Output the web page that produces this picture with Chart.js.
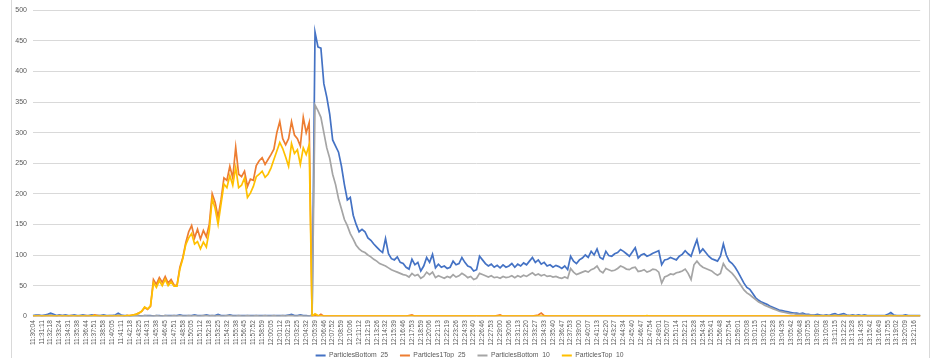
<!DOCTYPE html>
<html>
<head>
<meta charset="utf-8">
<script src="https://cdn.jsdelivr.net/npm/chart.js@4/dist/chart.umd.min.js"></script>
<style>
  html, body { margin: 0; padding: 0; background: #ffffff; overflow: hidden; width: 932px; height: 358px; }
  #wrap { position: relative; width: 932px; height: 378px; }
  #frame { position: absolute; left: 11px; top: -3px; width: 919px; height: 390px; box-sizing: border-box; border: 1px solid #d9d9d9; pointer-events: none; }
  canvas { position: absolute; left: 0; top: 0; }
</style>
</head>
<body>
<div id="wrap">
  <div id="frame"></div>
  <canvas id="chart"></canvas>
</div>
<script>
// Tick labels shown on the category axis (one every 3 samples)
const tickLabels = [
  "11:30:04","11:31:11","11:32:18","11:33:24","11:34:31","11:35:38","11:36:44","11:37:51","11:38:58","11:40:05",
  "11:41:11","11:42:18","11:43:25","11:44:31","11:45:38","11:46:45","11:47:51","11:48:58","11:50:05","11:51:12",
  "11:52:18","11:53:25","11:54:32","11:55:38","11:56:45","11:57:52","11:58:59","12:00:05","12:01:12","12:02:19",
  "12:03:25","12:04:32","12:05:39","12:06:46","12:07:52","12:08:59","12:10:06","12:11:12","12:12:19","12:13:26",
  "12:14:32","12:15:39","12:16:46","12:17:53","12:18:59","12:20:06","12:21:13","12:22:19","12:23:26","12:24:33",
  "12:25:40","12:26:46","12:27:53","12:29:00","12:30:06","12:31:13","12:32:20","12:33:27","12:34:33","12:35:40",
  "12:36:47","12:37:53","12:39:00","12:40:07","12:41:13","12:42:20","12:43:27","12:44:34","12:45:40","12:46:47",
  "12:47:54","12:49:01","12:50:07","12:51:14","12:52:21","12:53:28","12:54:34","12:55:41","12:56:48","12:57:54",
  "12:59:01","13:00:08","13:01:15","13:02:21","13:03:28","13:04:35","13:05:42","13:06:48","13:07:55","13:09:02",
  "13:10:08","13:11:15","13:12:22","13:13:28","13:14:35","13:15:42","13:16:49","13:17:55","13:19:02","13:20:09",
  "13:21:16"
];

const seriesNames = ["ParticlesBottom_25", "Particles1Top_25", "ParticlesBottom_10", "ParticlesTop_10"];

const particlesBottom25 = [
  1,2,2,1,2,3,5,3,1,2,
  1,2,1,1,2,1,1,2,1,1,
  2,1,1,1,2,1,1,1,2,5,
  2,1,1,0,1,1,1,0,1,1,
  1,0,1,1,0,1,1,1,1,1,
  2,1,1,1,1,2,1,1,1,2,
  1,1,1,3,1,1,1,2,1,1,
  1,1,1,1,1,1,1,1,1,1,
  1,1,1,1,1,1,1,2,3,1,
  1,2,1,1,0,2,464,440,438,380,
  358,330,288,278,268,245,215,190,194,165,
  150,138,142,138,128,124,118,113,108,104,
  127,102,94,92,97,88,86,80,77,93,
  84,88,74,82,96,88,101,79,85,80,
  82,78,80,90,84,86,96,88,82,80,
  74,76,98,92,86,82,85,80,83,79,
  84,80,82,86,80,85,82,87,84,90,
  96,88,92,85,88,82,84,80,83,81,
  78,82,76,98,90,86,92,95,100,96,
  106,100,110,96,93,106,99,98,102,104,
  109,106,102,98,105,112,95,100,102,98,
  100,103,105,107,84,92,93,96,94,92,
  98,101,107,102,98,112,125,104,110,104,
  98,94,92,90,98,118,100,90,86,80,
  72,63,54,47,44,37,30,26,23,21,
  19,16,14,12,10,9,8,7,6,5,
  5,4,5,3,3,2,2,3,2,1,
  2,1,3,4,2,3,4,2,1,2,
  1,2,1,2,1,1,1,1,1,1,
  1,3,6,2,1,1,1,2,1,1,
  1,1,1
];

const particles1Top25 = [
  0,0,1,0,0,1,0,0,0,1,
  0,0,0,1,0,0,0,0,1,0,
  0,2,1,0,0,0,0,0,0,0,
  0,0,1,1,2,3,5,8,14,11,
  16,60,52,63,55,65,54,60,51,50,
  80,96,120,138,148,128,142,126,140,130,
  150,200,186,162,190,226,222,245,226,276,
  232,228,237,212,224,222,246,254,259,248,
  256,264,273,300,318,290,280,290,318,296,
  290,278,325,300,316,0,1,0,3,0,
  0,0,0,0,0,0,0,0,0,0,
  0,0,0,0,0,0,0,0,0,0,
  0,0,0,0,0,0,0,0,1,2,
  0,0,0,0,0,0,0,0,0,0,
  0,0,0,0,0,0,0,0,0,0,
  0,0,0,0,0,0,0,0,1,2,
  0,0,0,0,0,0,0,0,0,0,
  0,1,2,5,1,0,0,0,0,0,
  0,0,0,0,0,0,0,0,0,0,
  0,0,0,0,0,0,0,0,0,0,
  0,0,0,0,0,0,0,0,0,0,
  0,0,0,0,0,0,0,0,0,0,
  0,0,0,0,0,0,0,0,0,0,
  0,0,0,0,0,0,0,0,0,0,
  0,0,0,0,0,0,0,0,0,0,
  0,0,0,0,0,0,0,0,0,0,
  0,0,0,0,0,0,0,0,0,0,
  0,0,0,0,0,0,0,0,0,0,
  0,0,0,0,0,0,0,0,0,0,
  0,0,0,0,0,0,0,0,0,0,
  0,0,0
];

const particlesBottom10 = [
  0,1,1,0,1,1,2,1,0,1,
  1,1,0,1,1,0,1,1,0,1,
  1,0,1,1,1,0,1,1,1,2,
  1,0,1,0,0,1,0,0,1,0,
  0,0,1,0,0,1,0,0,1,0,
  1,0,0,1,0,1,0,0,1,1,
  0,1,0,1,0,0,1,1,0,0,
  1,0,0,1,0,0,1,0,0,1,
  0,0,1,0,0,1,0,1,1,0,
  0,1,0,0,0,1,345,336,325,300,
  275,258,232,215,192,175,158,148,135,126,
  116,110,106,104,100,97,93,90,86,84,
  82,79,76,74,72,70,68,67,64,70,
  66,68,62,65,72,68,72,63,66,64,
  62,65,63,68,64,66,70,67,63,65,
  60,62,70,68,66,64,66,63,64,62,
  65,63,64,66,63,66,64,67,65,68,
  71,67,69,66,68,65,66,64,65,63,
  62,64,62,78,72,68,70,72,74,72,
  76,78,82,74,71,78,76,74,75,78,
  82,80,77,76,79,80,73,74,76,72,
  74,77,76,72,54,64,66,69,68,71,
  72,74,77,70,60,84,90,84,80,78,
  76,74,70,67,70,86,78,74,70,64,
  57,50,43,38,35,31,27,23,21,18,
  16,14,12,10,8,7,6,5,4,4,
  3,3,3,2,2,2,1,1,1,1,
  1,1,1,2,1,1,2,1,1,1,
  0,1,0,1,0,0,0,0,0,0,
  0,1,2,1,0,0,0,0,0,0,
  0,0,0
];

const particlesTop10 = [
  0,0,0,0,0,0,0,0,0,0,
  0,0,0,0,0,0,0,0,0,0,
  0,1,0,0,0,0,0,0,0,0,
  0,0,1,1,2,3,5,8,15,12,
  17,55,47,58,50,60,50,56,49,49,
  77,94,117,128,135,118,122,110,121,113,
  140,192,176,150,183,216,210,230,214,243,
  210,214,226,194,201,212,228,232,237,227,
  232,242,256,270,284,274,260,245,282,266,
  272,248,275,264,280,0,4,1,0,0,
  0,0,0,0,0,0,0,0,0,0,
  0,0,0,0,0,0,0,0,0,0,
  0,0,0,0,0,0,0,0,0,0,
  0,0,0,0,0,0,0,0,0,0,
  0,0,0,0,0,0,0,0,0,0,
  0,0,0,0,0,0,0,0,0,0,
  0,0,0,0,0,0,0,0,0,0,
  0,0,0,0,0,0,0,0,0,0,
  0,0,0,0,0,0,0,0,0,0,
  0,0,0,0,0,0,0,0,0,0,
  0,0,0,0,0,0,0,0,0,1,
  0,0,0,0,0,0,0,0,0,0,
  0,0,0,0,0,0,0,0,0,0,
  0,0,0,0,0,0,0,0,0,0,
  0,0,0,0,0,0,0,0,0,0,
  0,0,0,0,0,0,0,0,0,0,
  0,0,0,0,0,0,0,0,0,0,
  0,0,0,0,0,0,0,0,0,0,
  0,0,0,0,0,0,0,0,0,0,
  0,0,0,0,0,0,0,0,0,0,
  0,0,0
];

const yTicks = { min: 0, max: 500, step: 50 };

// Category labels: every third sample carries a time tick label
const labels = particlesBottom25.map((_, j) =>
  (j % 3 === 0 && j / 3 < tickLabels.length) ? tickLabels[j / 3] : '');

const FONT = "'Liberation Sans', Arial, sans-serif";
const TXT = '#595959';

// Nudge the legend box so it sits where the reference legend sits
const legendShift = {
  id: 'legendShift',
  afterLayout(chart) {
    const l = chart.legend;
    if (l) { l.left -= 7; l.right -= 7; l.top -= 9; l.bottom -= 9; }
  }
};

new Chart(document.getElementById('chart'), {
  type: 'line',
  data: {
    labels: labels,
    datasets: [
      { label: seriesNames[0], data: particlesBottom25, borderColor: '#4472C4', backgroundColor: '#4472C4', order: 3 },
      { label: seriesNames[1], data: particles1Top25,   borderColor: '#ED7D31', backgroundColor: '#ED7D31', order: 2 },
      { label: seriesNames[2], data: particlesBottom10, borderColor: '#A5A5A5', backgroundColor: '#A5A5A5', order: 1 },
      { label: seriesNames[3], data: particlesTop10,    borderColor: '#FFC000', backgroundColor: '#FFC000', order: 0 }
    ]
  },
  options: {
    responsive: true,
    maintainAspectRatio: false,
    animation: false,
    devicePixelRatio: 1,
    events: [],
    elements: {
      point: { radius: 0 },
      line: { borderWidth: 1.7, tension: 0 }
    },
    layout: { padding: { top: 7, right: 7, left: 0, bottom: 0 } },
    scales: {
      x: {
        grid: { display: false, drawTicks: false },
        border: { display: false },
        ticks: {
          autoSkip: false, maxRotation: 90, minRotation: 90, padding: 4,
          font: { size: 6.5, family: FONT }, color: TXT
        },
        afterFit: (s) => { s.height = 33; }
      },
      y: {
        min: yTicks.min, max: yTicks.max,
        ticks: { stepSize: yTicks.step, padding: 6, font: { size: 7, family: FONT }, color: TXT },
        grid: { color: '#d9d9d9', drawTicks: false, lineWidth: 1 },
        border: { display: false },
        afterFit: (s) => { s.width = 33; }
      }
    },
    plugins: {
      tooltip: { enabled: false },
      legend: {
        position: 'bottom',
        fullSize: false,
        labels: {
          boxWidth: 10, boxHeight: 2, padding: 12,
          font: { size: 6.8, family: FONT }, color: TXT,
          sort: (a, b) => a.datasetIndex - b.datasetIndex,
          generateLabels: (chart) => Chart.defaults.plugins.legend.labels.generateLabels(chart)
            .map(l => Object.assign({}, l, { lineWidth: 0 }))
        }
      }
    }
  },
  plugins: [legendShift]
});
</script>
</body>
</html>
